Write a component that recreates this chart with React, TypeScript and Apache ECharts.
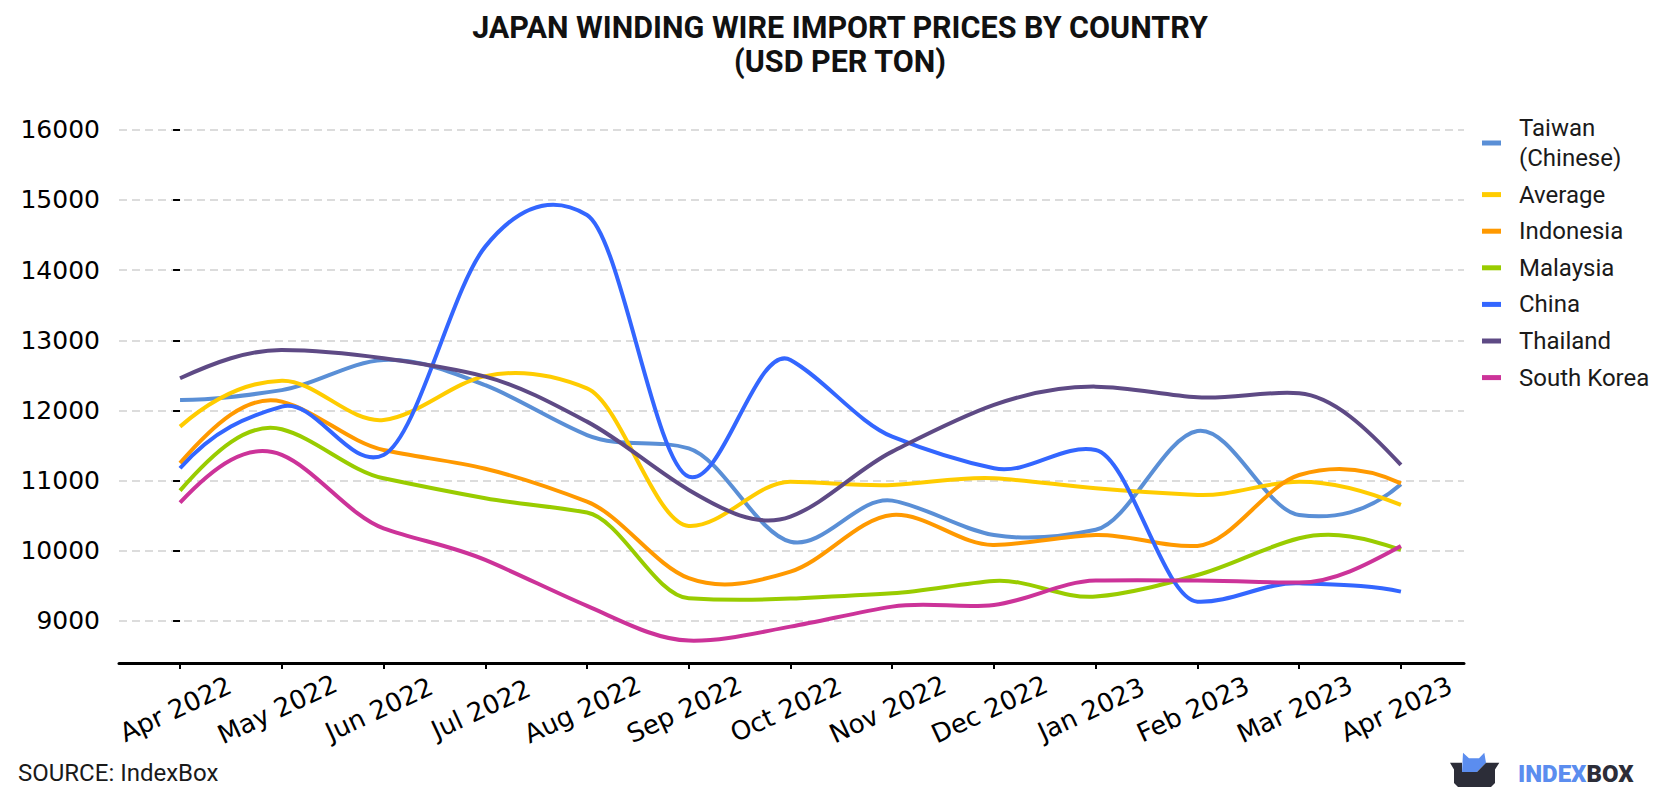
import React, { useEffect, useRef } from "react";
import * as echarts from "echarts";

const months = [
  "Apr 2022", "May 2022", "Jun 2022", "Jul 2022", "Aug 2022", "Sep 2022", "Oct 2022",
  "Nov 2022", "Dec 2022", "Jan 2023", "Feb 2023", "Mar 2023", "Apr 2023",
];

const taiwan = [12150, 12290, 12720, 12360, 11650, 11460, 10130, 10715, 10226, 10300, 11708, 10511, 10948];
const average = [11770, 12425, 11865, 12490, 12316, 10355, 10986, 10939, 11034, 10891, 10796, 10986, 10654];
const indonesia = [11250, 12126, 11437, 11170, 10701, 9610, 9704, 10511, 10084, 10226, 10070, 11081, 10962];
const malaysia = [10858, 11732, 11034, 10749, 10545, 9324, 9320, 9395, 9571, 9348, 9656, 10179, 10012];
const china = [11176, 12055, 11366, 14335, 14786, 11057, 12720, 11627, 11176, 11437, 9276, 9537, 9419];
const thailand = [12459, 12862, 12744, 12483, 11841, 10868, 10488, 11414, 12079, 12340, 12188, 12245, 11224];
const southKorea = [10687, 11366, 10321, 9870, 9215, 8721, 8920, 9205, 9229, 9576, 9576, 9547, 10069];

const seriesNames = ["Taiwan (Chinese)", "Average", "Indonesia", "Malaysia", "China", "Thailand", "South Korea"];
const seriesValues = [taiwan, average, indonesia, malaysia, china, thailand, southKorea];
const seriesColors = ["#5A8FD6", "#FFCC00", "#FF9900", "#99CC00", "#3366FF", "#5E4A85", "#CC3399"];

const yTicks = [9000, 10000, 11000, 12000, 13000, 14000, 15000, 16000];
const xTicks = months.map((_, i) => i);

// Akima-style smooth curve through pixel points, as SVG path data
function akimaPath(pts: number[][]): string {
  const n = pts.length;
  const f = (v: number) => v.toFixed(2);
  if (n === 0) return "";
  if (n < 3) {
    let d = `M${f(pts[0][0])},${f(pts[0][1])}`;
    for (let i = 1; i < n; i++) d += `L${f(pts[i][0])},${f(pts[i][1])}`;
    return d;
  }
  const m: number[] = [];
  for (let i = 0; i < n - 1; i++) {
    m.push((pts[i + 1][1] - pts[i][1]) / (pts[i + 1][0] - pts[i][0]));
  }
  const mm = [
    3 * m[0] - 2 * m[1],
    2 * m[0] - m[1],
    ...m,
    2 * m[n - 2] - m[n - 3],
    3 * m[n - 2] - 2 * m[n - 3],
  ];
  const t: number[] = [];
  for (let i = 0; i < n; i++) {
    const f1 = Math.abs(mm[i + 3] - mm[i + 2]);
    const f2 = Math.abs(mm[i + 1] - mm[i]);
    const s = f1 + f2;
    t.push(s > 1e-9 ? (f1 * mm[i + 1] + f2 * mm[i + 2]) / s : 0.5 * (mm[i + 1] + mm[i + 2]));
  }
  let d = `M${f(pts[0][0])},${f(pts[0][1])}`;
  for (let i = 0; i < n - 1; i++) {
    const h = pts[i + 1][0] - pts[i][0];
    const c1x = pts[i][0] + h / 3;
    const c1y = pts[i][1] + (t[i] * h) / 3;
    const c2x = pts[i + 1][0] - h / 3;
    const c2y = pts[i + 1][1] - (t[i + 1] * h) / 3;
    d += `C${f(c1x)},${f(c1y)},${f(c2x)},${f(c2y)},${f(pts[i + 1][0])},${f(pts[i + 1][1])}`;
  }
  return d;
}

export default function App() {
  const ref = useRef<HTMLDivElement>(null);

  useEffect(() => {
    if (!ref.current) return;
    const chart = echarts.init(ref.current, undefined, { renderer: "svg" });

    const series = seriesNames.map((name, k) => ({
      name,
      type: "custom",
      coordinateSystem: "cartesian2d",
      encode: { x: 0, y: 1 },
      data: seriesValues[k].map((v, i) => [i, v]),
      itemStyle: { color: seriesColors[k] },
      z: 3,
      renderItem: (params: any, api: any) => {
        if (params.dataIndex !== 0) return null;
        const pts: number[][] = [];
        const len = params.dataInsideLength;
        for (let j = 0; j < len; j++) {
          pts.push(api.coord([api.value(0, j), api.value(1, j)]));
        }
        return {
          type: "path",
          shape: { pathData: akimaPath(pts) },
          style: {
            fill: "none",
            stroke: seriesColors[k],
            lineWidth: 4,
            lineJoin: "round",
            lineCap: "butt",
          },
        };
      },
    }));

    chart.setOption({
      animation: false,
      backgroundColor: "#ffffff",
      title: {
        text: "JAPAN WINDING WIRE IMPORT PRICES BY COUNTRY\n(USD PER TON)",
        left: "center",
        top: 5,
        textStyle: {
          fontFamily: "Roboto",
          fontWeight: "bold",
          fontSize: 30.5,
          lineHeight: 34,
          color: "#111111",
        },
      },
      legend: {
        orient: "vertical",
        left: 1482,
        top: 113,
        padding: 0,
        itemGap: 6.6,
        itemWidth: 19,
        itemHeight: 5,
        icon: "rect",
        data: seriesNames,
        formatter: (name: string) => name.replace(" (", "\n("),
        textStyle: {
          fontFamily: "Roboto",
          fontSize: 24,
          lineHeight: 30,
          color: "#1a1a1a",
          padding: [0, 0, 0, 13],
        },
      },
      grid: {
        left: 119,
        right: 216,
        top: 129.8,
        bottom: 800 - 663.1,
        containLabel: false,
      },
      xAxis: {
        type: "value",
        min: -0.6,
        max: 12.62,
        z: 1,
        axisLine: { show: true, lineStyle: { color: "#000000", width: 3 } },
        axisTick: {
          show: true,
          customValues: xTicks,
          length: 6,
          lineStyle: { color: "#000000", width: 2 },
        },
        splitLine: { show: false },
        axisLabel: {
          customValues: xTicks,
          rotate: 25,
          align: "center",
          verticalAlign: "middle",
          margin: 44,
          padding: [0, 10, 0, 0],
          fontFamily: "DejaVu Sans",
          fontSize: 26,
          color: "#000000",
          formatter: (v: number) => months[Math.round(v)] ?? "",
        },
      },
      yAxis: {
        type: "value",
        min: 8400,
        max: 16000,
        axisLine: { show: false },
        axisTick: {
          show: true,
          customValues: yTicks,
          length: 7,
          lineStyle: { color: "#000000", width: 2 },
        },
        splitLine: {
          show: true,
          lineStyle: { color: "#DCDCDC", width: 2, type: [8, 5] },
        },
        axisLabel: {
          customValues: yTicks,
          margin: 19,
          fontFamily: "DejaVu Sans",
          fontSize: 25,
          color: "#000000",
          formatter: (v: number) => String(v),
        },
      },
      series,
      graphic: [
        {
          type: "text",
          left: 18,
          top: 761,
          style: {
            text: "SOURCE: IndexBox",
            fontFamily: "Roboto",
            fontSize: 24,
            fill: "#1a1a1a",
          },
        },
        {
          type: "polygon",
          shape: {
            points: [
              [1462, 772], [1463, 752.7], [1469, 758.3], [1479, 758.3], [1484.3, 752.7], [1486, 762.7], [1477, 772],
            ],
          },
          style: { fill: "#5B8DEF" },
        },
        {
          type: "polygon",
          shape: {
            points: [
              [1450, 762.7], [1462, 762.7], [1462, 772], [1477, 772], [1486, 762.7], [1499.3, 762.7],
              [1495, 769.5], [1495, 783], [1491, 787], [1458, 787], [1454, 783], [1454, 769.5],
            ],
          },
          style: { fill: "#2C2D38" },
        },
        {
          type: "text",
          left: 1518,
          top: 762,
          style: {
            text: "{a|INDEX}{b|BOX}",
            rich: {
              a: { fontFamily: "Roboto", fontWeight: 900, fontSize: 24, fill: "#5B8DEF" },
              b: { fontFamily: "Roboto", fontWeight: 900, fontSize: 24, fill: "#2C2D38" },
            },
          },
        },
      ],
    });

    return () => chart.dispose();
  }, []);

  return (
    <div
      ref={ref}
      style={{ position: "fixed", left: 0, top: 0, width: 1680, height: 800 }}
    />
  );
}
